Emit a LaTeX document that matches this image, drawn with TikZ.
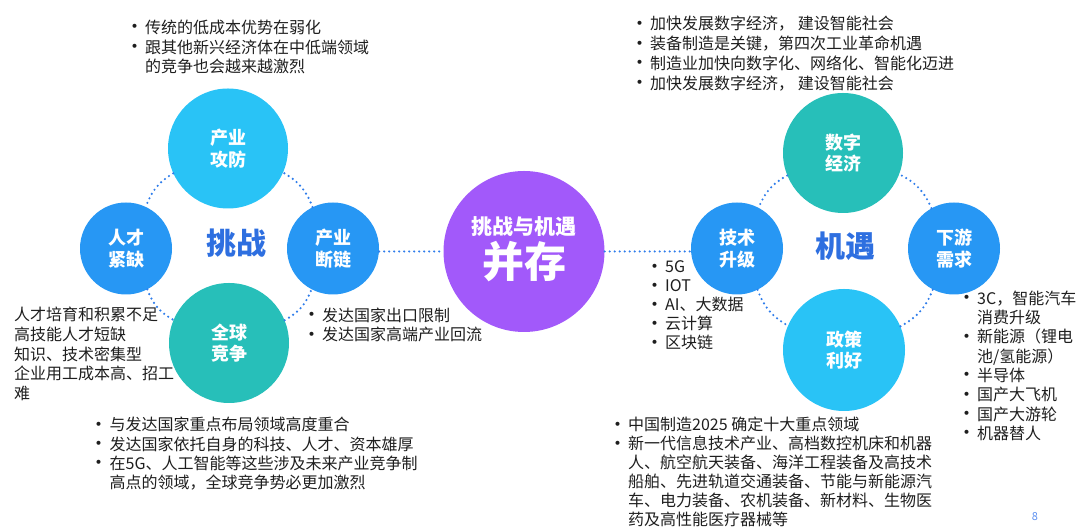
\documentclass[tikz,border=0pt]{standalone}
\usepackage{fontspec}
\setmainfont{Noto Sans CJK SC}
\usepackage{xcolor}
\usetikzlibrary{calc}
\definecolor{skyc}{HTML}{29C3F6}
\definecolor{bluec}{HTML}{2797F4}
\definecolor{tealc}{HTML}{27BFB9}
\definecolor{purplec}{HTML}{A259FA}
\definecolor{titlec}{HTML}{2E6FE0}
\definecolor{dotc}{HTML}{2F7DEB}
\definecolor{txtc}{HTML}{1E1E1E}
\definecolor{pagec}{HTML}{5B8FF0}
\newcommand{\bul}{\makebox[20pt][l]{\raisebox{-0.5pt}{\fontsize{19}{19}\selectfont\textbullet}}} % bullet with its gap
\newcommand{\bsp}{\hspace*{20pt}} % indent of a wrapped line

\begin{document}
\begin{tikzpicture}[
  x=1pt, y=1pt,
  big node/.style={circle,draw=none,minimum size=120pt,inner sep=0pt,align=center,text=white,font=\fontsize{18}{21.5}\selectfont\bfseries}, % style of the large circles
  small node/.style={big node,minimum size=92pt}, % style of the small circles
  dot line/.style={draw=dotc,line width=2.4pt,line cap=round,dash pattern=on 0pt off 5pt}, % dotted connectors
  list text/.style={anchor=base west,align=left,inner sep=0pt,text=txtc,font=\fontsize{16}{19.7}\selectfont}, % lists, placed at the baseline of their last line
  word node/.style={inner sep=0pt,text=titlec,font=\fontsize{30}{30}\selectfont\bfseries}
  ]
  \useasboundingbox (0,0) rectangle (1080,532);

  % challenge side
  \node[big node,fill=skyc] (gf) at (228,383.5) {产业\\攻防};
  \node[small node,fill=bluec] (rc) at (126,283.5) {人才\\紧缺};
  \node[small node,fill=bluec] (dl) at (333,283.5) {产业\\断链};
  \node[big node,fill=tealc] (qj) at (229,189) {全球\\竞争};
  \node[word node] (tz) at (236,289) {挑战};

  % centre
  \node[circle,fill=purplec,minimum size=161pt,inner sep=0pt] (bc) at (524,280.5) {};
  \node[inner sep=0pt,text=white,font=\fontsize{21}{21}\selectfont\bfseries] (bct) at (524,305) {挑战与机遇};
  \node[inner sep=0pt,text=white,font=\fontsize{42}{42}\selectfont\bfseries] (bcb) at (524,270) {并存};

  % opportunity side
  \node[small node,fill=bluec] (js) at (737,283.5) {技术\\升级};
  \node[big node,fill=tealc] (sz) at (843,379) {数字\\经济};
  \node[small node,fill=bluec] (xy) at (954,283.5) {下游\\需求};
  \node[big node,fill=skyc,minimum size=122pt] (zc) at (844,182) {政策\\利好};
  \node[word node] (jy) at (845,286) {机遇};

  \path[dot line]
    (gf) edge[bend right=20] (rc)
    (rc) edge[bend right=20] (qj)
    (qj) edge[bend right=20] (dl)
    (dl) edge[bend right=20] (gf)
    (sz) edge[bend right=20] (js)
    (js) edge[bend right=20] (zc)
    (zc) edge[bend right=20] (xy)
    (xy) edge[bend right=20] (sz)
    (dl.east |- bc.center) edge (bc.west)
    (bc.east) edge (js.west |- bc.center);

  % texts
  \node[list text] (gft) at (125,459.1) {\bul 传统的低成本优势在弱化\\ \bul 跟其他新兴经济体在中低端领域\\ \bsp 的竞争也会越来越激烈};
  \node[list text,font=\fontsize{16}{19.6}\selectfont] (rct) at (14,132.6) {人才培育和积累不足\\高技能人才短缺\\知识、技术密集型\\企业用工成本高、招工\\难};
  \node[list text] (dlt) at (302,191) {\bul 发达国家出口限制\\ \bul 发达国家高端产业回流};
  \node[list text,font=\fontsize{16}{19.2}\selectfont] (qjt) at (89.5,43.4) {\bul 与发达国家重点布局领域高度重合\\ \bul 发达国家依托自身的科技、人才、资本雄厚\\ \bul 在5G、人工智能等这些涉及未来产业竞争制\\ \bsp 高点的领域，全球竞争势必更加激烈};
  \node[list text] (szt) at (630,442.9) {\bul 加快发展数字经济， 建设智能社会\\ \bul 装备制造是关键，第四次工业革命机遇\\ \bul 制造业加快向数字化、网络化、智能化迈进\\ \bul 加快发展数字经济， 建设智能社会};
  \node[list text,font=\fontsize{16}{19}\selectfont] (jst) at (645,183) {\bul 5G\\ \bul IOT\\ \bul AI、大数据\\ \bul 云计算\\ \bul 区块链};
  \node[list text,font=\fontsize{16}{19}\selectfont] (zct) at (608,6) {\bul 中国制造2025 确定十大重点领域\\ \bul 新一代信息技术产业、高档数控机床和机器\\ \bsp 人、航空航天装备、海洋工程装备及高技术\\ \bsp 船舶、先进轨道交通装备、节能与新能源汽\\ \bsp 车、电力装备、农机装备、新材料、生物医\\ \bsp 药及高性能医疗器械等};
  \node[list text,font=\fontsize{16}{19.3}\selectfont] (xyt) at (957,92.6) {\bul 3C，智能汽车\\ \bsp 消费升级\\ \bul 新能源（锂电\\ \bsp 池/氢能源）\\ \bul 半导体\\ \bul 国产大飞机\\ \bul 国产大游轮\\ \bul 机器替人};
  \node[inner sep=0pt,text=pagec,font=\fontsize{11}{11}\selectfont] (pg) at (1035,15) {8};
\end{tikzpicture}
\end{document}
